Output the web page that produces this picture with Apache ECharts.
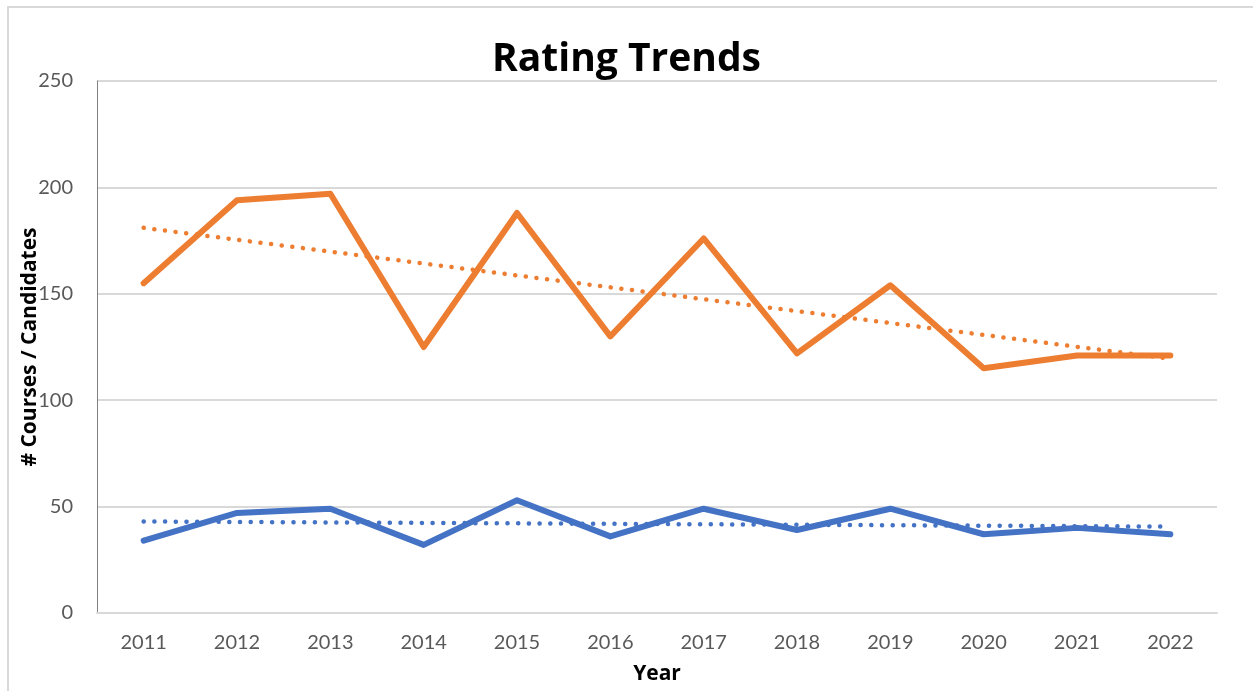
<!DOCTYPE html>
<html>
<head>
<meta charset="utf-8">
<script src="https://cdn.jsdelivr.net/npm/echarts@6/dist/echarts.min.js"></script>
<style>
  html, body { margin: 0; padding: 0; background: #fff; overflow: hidden; }
  #frame { position: absolute; left: 7px; top: 6px; width: 1260px; height: 720px; border: 2px solid #d9d9d9; }
  #main { position: absolute; left: 0; top: 0; width: 1253px; height: 691px; }
</style>
</head>
<body>
<div id="frame"></div>
<div id="main"></div>
<script>
// 年份
const years = ['2011', '2012', '2013', '2014', '2015', '2016', '2017', '2018', '2019', '2020', '2021', '2022'];
// 上面的橙色线
const orangeVals = [155, 194, 197, 125, 188, 130, 176, 122, 154, 115, 121, 121];
// 下面的蓝色线
const blueVals = [34, 47, 49, 32, 53, 36, 49, 39, 49, 37, 40, 37];
// 趋势线 只读两端，中间连起来
const orangeTrend = [181, null, null, null, null, null, null, null, null, null, null, 119.5];
const blueTrend = [43, null, null, null, null, null, null, null, null, null, null, 40.6];

const ORANGE = '#ED7D31';
const BLUE = '#4472C4';
const FONT = 'Lato, "Open Sans", sans-serif';
const BOLD_FONT = '"Open Sans", sans-serif';

const myChart = echarts.init(document.getElementById('main'));

const option = {
  animation: false,
  title: {
    text: 'Rating Trends',
    left: 'center',
    top: 35,
    textStyle: {
      color: '#000',
      fontFamily: BOLD_FONT,
      fontWeight: 'bold',
      fontSize: 39
    }
  },
  grid: {
    left: 97,
    right: 36,
    top: 81,
    bottom: 78,
    outerBoundsMode: 'none'
  },
  xAxis: {
    type: 'category',
    data: years,
    boundaryGap: true,
    name: 'Year',
    nameLocation: 'middle',
    nameGap: 51,
    nameTextStyle: {color: '#000', fontFamily: BOLD_FONT, fontWeight: 'bold', fontSize: 21},
    axisLine: {lineStyle: {color: '#d9d9d9', width: 2}},
    axisTick: {show: false},
    axisLabel: {color: '#595959', fontFamily: FONT, fontSize: 20, margin: 20}
  },
  yAxis: {
    type: 'value',
    min: 0,
    max: 250,
    interval: 50,
    name: '# Courses / Candidates',
    nameLocation: 'middle',
    nameGap: 56,
    nameMoveOverlap: false,
    nameTextStyle: {color: '#000', fontFamily: BOLD_FONT, fontWeight: 'bold', fontSize: 21},
    axisLine: {show: true, lineStyle: {color: '#808080', width: 1}},
    axisTick: {show: false},
    axisLabel: {color: '#595959', fontFamily: FONT, fontSize: 20, margin: 24},
    splitLine: {lineStyle: {color: '#d9d9d9', width: 2}}
  },
  series: [
    {
      name: 'orange',
      type: 'line',
      data: orangeVals,
      showSymbol: false,
      lineStyle: {color: ORANGE, width: 6, cap: 'round', join: 'round'},
      z: 3
    },
    {
      name: 'blue',
      type: 'line',
      data: blueVals,
      showSymbol: false,
      lineStyle: {color: BLUE, width: 6, cap: 'round', join: 'round'},
      z: 3
    },
    {
      name: 'orangeTrend',
      type: 'line',
      data: orangeTrend,
      connectNulls: true,
      showSymbol: false,
      lineStyle: {color: ORANGE, width: 4.5, type: [0.1, 10.6], cap: 'round'},
      z: 4
    },
    {
      name: 'blueTrend',
      type: 'line',
      data: blueTrend,
      connectNulls: true,
      showSymbol: false,
      lineStyle: {color: BLUE, width: 4.5, type: [0.1, 10.6], cap: 'round'},
      z: 4
    }
  ]
};

myChart.setOption(option);
</script>
</body>
</html>
